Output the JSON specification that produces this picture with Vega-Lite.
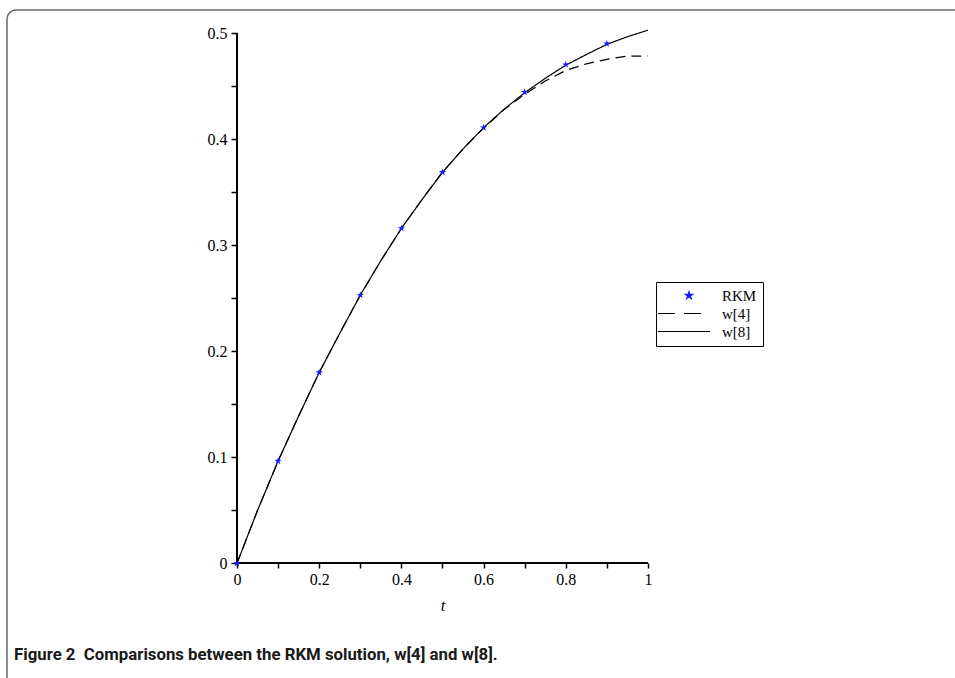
{
  "$schema": "https://vega.github.io/schema/vega-lite/v6.json",
  "autosize": "none",
  "width": 960,
  "height": 680,
  "padding": {"left": 7, "top": 10, "right": 0, "bottom": 0},
  "background": "white",
  "config": {
    "view": {"stroke": "#6a6a6a", "strokeWidth": 1.5, "cornerRadius": 9, "fill": "white"},
    "axis": {"grid": false, "domain": false, "labelFont": "Liberation Serif", "labelFontSize": 16, "labelColor": "black", "tickColor": "black", "tickWidth": 1.5, "labelOverlap": false, "labelFlush": false}
  },
  "title": {
    "text": "Figure 2\u00a0 Comparisons between the RKM solution, w[4] and w[8].",
    "orient": "bottom",
    "anchor": "start",
    "frame": "group",
    "baseline": "middle",
    "offset": 0,
    "dy": -35,
    "dx": 7,
    "font": "Roboto, sans-serif",
    "fontSize": 16.8,
    "fontWeight": "bold",
    "color": "#1a1a1a"
  },
  "data": {
    "values": [
      {"t": 0, "y": 0, "series": "w[8]"},
      {"t": 0.05, "y": 0.05, "series": "w[8]"},
      {"t": 0.1, "y": 0.0965, "series": "w[8]"},
      {"t": 0.15, "y": 0.139, "series": "w[8]"},
      {"t": 0.2, "y": 0.18, "series": "w[8]"},
      {"t": 0.25, "y": 0.217, "series": "w[8]"},
      {"t": 0.3, "y": 0.253, "series": "w[8]"},
      {"t": 0.35, "y": 0.2855, "series": "w[8]"},
      {"t": 0.4, "y": 0.316, "series": "w[8]"},
      {"t": 0.45, "y": 0.343, "series": "w[8]"},
      {"t": 0.5, "y": 0.369, "series": "w[8]"},
      {"t": 0.55, "y": 0.391, "series": "w[8]"},
      {"t": 0.6, "y": 0.411, "series": "w[8]"},
      {"t": 0.65, "y": 0.4285, "series": "w[8]"},
      {"t": 0.7, "y": 0.444, "series": "w[8]"},
      {"t": 0.75, "y": 0.4575, "series": "w[8]"},
      {"t": 0.8, "y": 0.47, "series": "w[8]"},
      {"t": 0.85, "y": 0.48, "series": "w[8]"},
      {"t": 0.9, "y": 0.4896, "series": "w[8]"},
      {"t": 0.95, "y": 0.4968, "series": "w[8]"},
      {"t": 1, "y": 0.503, "series": "w[8]"},
      {"t": 0, "y": 0, "series": "w[4]"},
      {"t": 0.05, "y": 0.05, "series": "w[4]"},
      {"t": 0.1, "y": 0.0965, "series": "w[4]"},
      {"t": 0.15, "y": 0.139, "series": "w[4]"},
      {"t": 0.2, "y": 0.18, "series": "w[4]"},
      {"t": 0.25, "y": 0.217, "series": "w[4]"},
      {"t": 0.3, "y": 0.253, "series": "w[4]"},
      {"t": 0.35, "y": 0.2855, "series": "w[4]"},
      {"t": 0.4, "y": 0.316, "series": "w[4]"},
      {"t": 0.45, "y": 0.343, "series": "w[4]"},
      {"t": 0.5, "y": 0.369, "series": "w[4]"},
      {"t": 0.55, "y": 0.391, "series": "w[4]"},
      {"t": 0.6, "y": 0.4105, "series": "w[4]"},
      {"t": 0.65, "y": 0.428, "series": "w[4]"},
      {"t": 0.7, "y": 0.4425, "series": "w[4]"},
      {"t": 0.75, "y": 0.455, "series": "w[4]"},
      {"t": 0.8, "y": 0.465, "series": "w[4]"},
      {"t": 0.85, "y": 0.4712, "series": "w[4]"},
      {"t": 0.9, "y": 0.4755, "series": "w[4]"},
      {"t": 0.95, "y": 0.4785, "series": "w[4]"},
      {"t": 1, "y": 0.4786, "series": "w[4]"},
      {"t": 0, "y": 0, "series": "RKM"},
      {"t": 0.1, "y": 0.0965, "series": "RKM"},
      {"t": 0.2, "y": 0.18, "series": "RKM"},
      {"t": 0.3, "y": 0.253, "series": "RKM"},
      {"t": 0.4, "y": 0.316, "series": "RKM"},
      {"t": 0.5, "y": 0.369, "series": "RKM"},
      {"t": 0.6, "y": 0.411, "series": "RKM"},
      {"t": 0.7, "y": 0.4445, "series": "RKM"},
      {"t": 0.8, "y": 0.4705, "series": "RKM"},
      {"t": 0.9, "y": 0.4902, "series": "RKM"}
    ]
  },
  "encoding": {
    "x": {
      "field": "t", "type": "quantitative",
      "scale": {"domain": [-0.5596, 1.7762], "nice": false, "zero": false},
      "axis": {
        "orient": "bottom", "offset": -127,
        "values": [0, 0.1, 0.2, 0.3, 0.4, 0.5, 0.6, 0.7, 0.8, 0.9, 1],
        "format": ".1~f",
        "labelExpr": "round(datum.value*10) % 2 == 0 ? datum.label : ''",
        "tickSize": 5, "labelPadding": 3,
        "title": "t", "titleFont": "Liberation Serif", "titleFontStyle": "italic", "titleFontWeight": "normal", "titleFontSize": 17, "titleColor": "black",
        "titleX": 435.5, "titleY": 42, "titleBaseline": "middle", "titleAnchor": "start", "titleAlign": "center"
      }
    },
    "y": {
      "field": "y", "type": "quantitative",
      "scale": {"domain": [-0.1195, 0.522], "nice": false, "zero": false},
      "axis": {
        "orient": "left", "offset": -230,
        "values": [0, 0.05, 0.1, 0.15, 0.2, 0.25, 0.3, 0.35, 0.4, 0.45, 0.5],
        "format": ".1~f",
        "labelExpr": "round(datum.value*100) % 10 == 0 ? datum.label : ''",
        "tickSize": 6, "labelPadding": 4,
        "title": null
      }
    }
  },
  "layer": [
    {
      "mark": {"type": "rule", "color": "black", "strokeWidth": 1.5},
      "encoding": {"x": {"datum": 0}, "x2": {"datum": 1}, "y": {"datum": 0}}
    },
    {
      "mark": {"type": "rule", "color": "black", "strokeWidth": 1.5},
      "encoding": {"x": {"datum": 0}, "y": {"datum": 0}, "y2": {"datum": 0.5}}
    },
    {
      "transform": [{"filter": "datum.series !== 'RKM'"}],
      "mark": {"type": "line", "strokeWidth": 1.2},
      "encoding": {
        "color": {
          "field": "series", "type": "nominal",
          "scale": {"domain": ["RKM", "w[4]", "w[8]"], "range": ["#1a1aff", "black", "black"]},
          "legend": {
            "title": null, "orient": "none", "legendX": 649, "legendY": 272,
            "strokeColor": "black", "fillColor": "white", "padding": 6,
            "labelFont": "Liberation Serif", "labelFontSize": 15, "labelColor": "black",
            "symbolSize": 27, "symbolStrokeWidth": 1.2, "rowPadding": 2,
            "encode": {
              "symbols": {
                "update": {
                  "x": {"signal": "datum.value === 'RKM' ? 27 : 22"},
                  "shape": {"signal": "datum.value === 'RKM' ? 'M0,-1L0.2245,-0.309L0.9511,-0.309L0.3633,0.118L0.5878,0.809L0,0.382L-0.5878,0.809L-0.3633,0.118L-0.9511,-0.309L-0.2245,-0.309Z' : 'M-10,0H10'"},
                  "size": {"signal": "datum.value === 'RKM' ? 60 : 27"},
                  "fill": {"signal": "datum.value === 'RKM' ? '#1a1aff' : 'transparent'"},
                  "stroke": {"signal": "datum.value === 'RKM' ? 'transparent' : 'black'"},
                  "strokeWidth": {"value": 1.2},
                  "strokeDash": {"signal": "datum.value === 'w[4]' ? [17, 9] : [1, 0]"},
                  "opacity": {"value": 1}
                }
              },
              "labels": {
                "update": {"x": {"value": 60}}
              }
            }
          }
        },
        "strokeDash": {
          "field": "series", "type": "nominal",
          "scale": {"domain": ["w[4]", "w[8]"], "range": [[10, 6], [1, 0]]},
          "legend": null
        }
      }
    },
    {
      "transform": [{"filter": "datum.series === 'RKM'"}],
      "mark": {"type": "point", "filled": true, "opacity": 1, "size": 60, "shape": "M0,-1L0.2245,-0.309L0.9511,-0.309L0.3633,0.118L0.5878,0.809L0,0.382L-0.5878,0.809L-0.3633,0.118L-0.9511,-0.309L-0.2245,-0.309Z"},
      "encoding": {
        "color": {"field": "series", "type": "nominal"}
      }
    }
  ]
}
